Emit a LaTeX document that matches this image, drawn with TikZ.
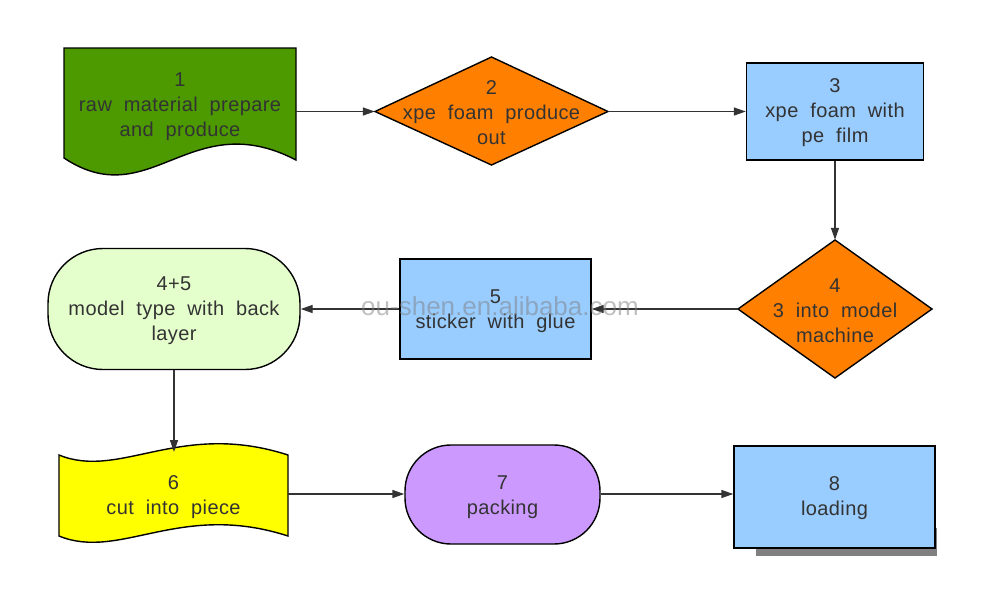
\documentclass[tikz,border=0pt]{standalone}
\usepackage{fontspec}
\setmainfont{Liberation Sans}
\newfontfamily\lblfam{Liberation Sans}[WordSpace={2.0,0,0},LetterSpace=2]
\usetikzlibrary{arrows.meta}
\definecolor{txt}{HTML}{333333}
\definecolor{gr}{HTML}{4C9900}
\definecolor{og}{HTML}{FF8000}
\definecolor{bl}{HTML}{99CCFF}
\definecolor{lg}{HTML}{E5FFCC}
\definecolor{pu}{HTML}{CC99FF}
\definecolor{ye}{HTML}{FFFF00}
\definecolor{sh}{HTML}{808080}
\tikzset{
  lbl/.style={text=txt, align=center, font=\lblfam\fontsize{20}{25}\selectfont, inner sep=0pt},
  shp/.style={draw=black, line width=1.4pt},
  anc/.style={draw=none, inner sep=0pt},
  conn/.style={draw=txt, line width=1.4pt, -{Triangle[length=12pt,width=8pt]}},
}
\begin{document}
\begin{tikzpicture}[x=1pt,y=-1pt]
\useasboundingbox (0,0) rectangle (998,611);
% 1 document
\node[anc, minimum width=232pt, minimum height=112pt] (n1) at (180,104) {};
\draw[shp, fill=gr] (64,48) -- (296,48) -- (296,160) .. controls (190,105) and (150,215) .. (64,158) -- cycle;
\node[lbl] at (180,107) {1\\raw material prepare\\and produce};
% 2 diamond
\node[anc, minimum width=233pt, minimum height=108pt] (n2) at (491.5,111.5) {};
\draw[shp, fill=og] (375,111.5) -- (491.5,57) -- (608,111.5) -- (491.5,165) -- cycle;
\node[lbl] at (491.5,113) {2\\xpe foam produce\\out};
% 3
\node[shp, fill=bl, minimum width=177pt, minimum height=97pt] (n3) at (835,111.5) {};
\node[lbl] at (835,113) {3\\xpe foam with\\pe film};
% 4 diamond
\node[anc, minimum width=194pt, minimum height=138pt] (n4) at (835,309) {};
\draw[shp, fill=og] (738,309) -- (835,240) -- (932,309) -- (835,378) -- cycle;
\node[lbl] at (835,311) {4\\3 into model\\machine};
% 5
\node[shp, fill=bl, minimum width=191pt, minimum height=100pt] (n5) at (495.5,309) {};
\node[lbl] at (495.5,311) {5\\sticker with glue};
% 4+5
\node[shp, fill=lg, rounded corners=55pt, minimum width=252pt, minimum height=121pt] (n45) at (174,309) {};
\node[lbl] at (174,311) {4+5\\model type with back\\layer};
% 6 tape
\node[anc, minimum width=229pt, minimum height=90pt] (n6) at (173.5,494) {};
\coordinate (n6top) at (174,452);
\draw[shp, fill=ye] (59,455) .. controls (120,480) and (180,420) .. (288,455) -- (288,536) .. controls (180,501) and (120,561) .. (59,536) -- cycle;
\node[lbl] at (173.5,497) {6\\cut into piece};
% 7
\node[shp, fill=pu, rounded corners=46pt, minimum width=195pt, minimum height=99pt] (n7) at (502.5,494.5) {};
\node[lbl] at (502.5,497) {7\\packing};
% 8
\fill[sh] (756,528) rectangle (937,556);
\node[shp, fill=bl, minimum width=201pt, minimum height=102pt] (n8) at (834.5,497) {};
\node[lbl] at (834.5,498.5) {8\\loading};
% connectors
\draw[conn] (n1.east |- n2.west) -- (n2.west);
\draw[conn] (n2.east) -- (n3.west |- n2.east);
\draw[conn] (n3.south) -- (n4.north);
\draw[conn] (n4.west) -- (n5.east);
\draw[conn] (n5.west) -- (n45.east);
\draw[conn] (n45.south) -- (n6top);
\draw[conn] (n6.east) -- (n7.west |- n6.east);
\draw[conn] (n7.east |- n6.east) -- (n8.west |- n6.east);
% watermark
\node[text=gray, opacity=0.5, font=\fontsize{26}{26}\selectfont, inner sep=0pt] (wm) at (500,306) {ou-shen.en.alibaba.com};
\end{tikzpicture}
\end{document}
